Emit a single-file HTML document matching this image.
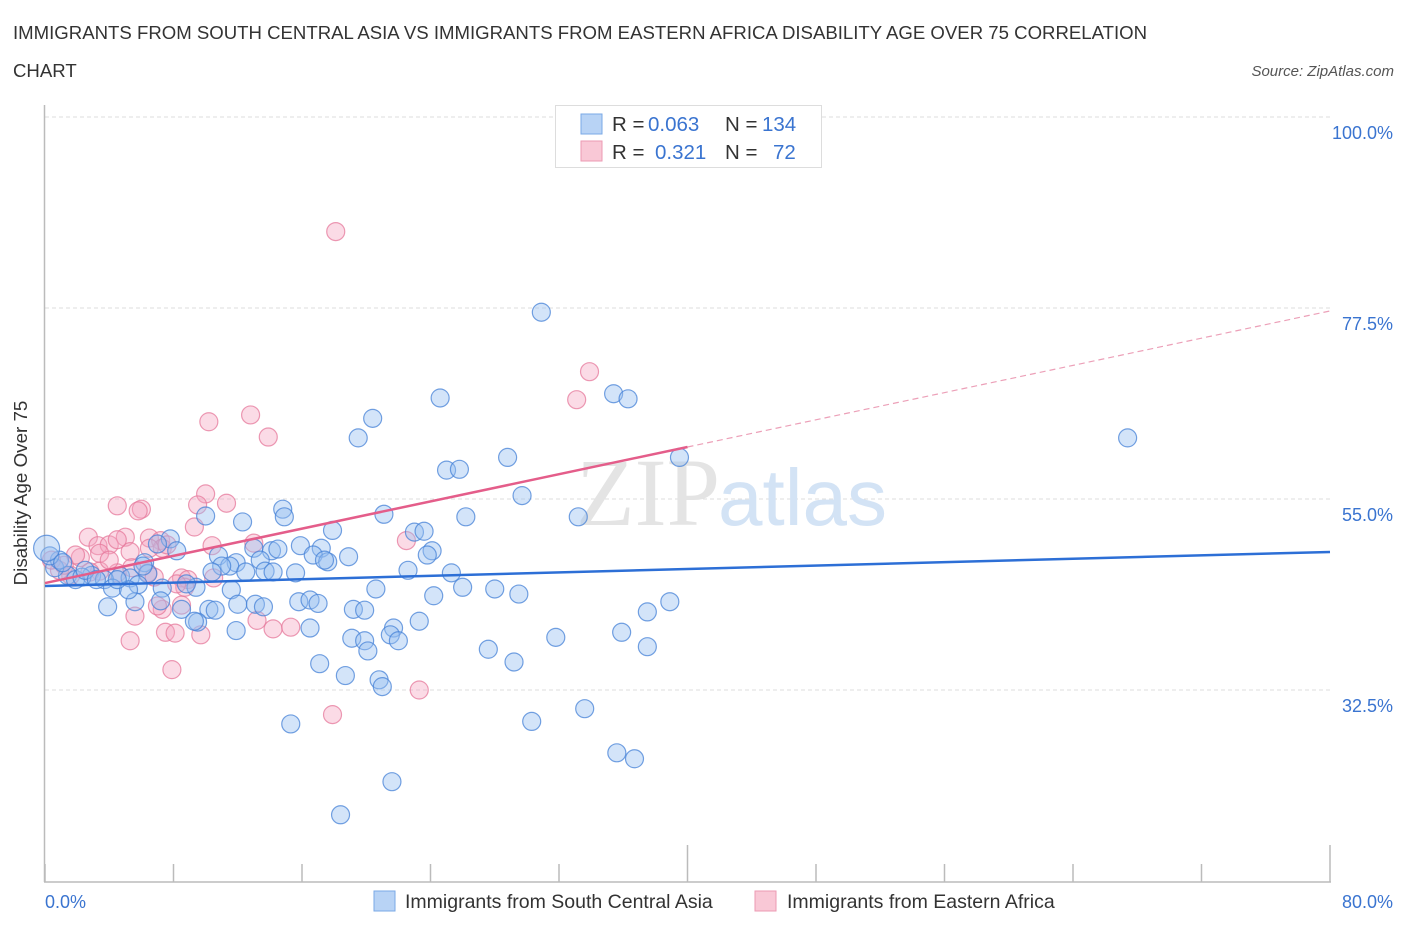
<!DOCTYPE html>
<html><head><meta charset="utf-8">
<style>
body{margin:0;background:#fff;font-family:"Liberation Sans",sans-serif;}
#wrap{position:relative;width:1406px;height:930px;overflow:hidden;}
svg{position:absolute;left:0;top:0;}
</style></head>
<body><div id="wrap">
<svg id="chart" width="1406" height="930">
<text x="13" y="39" font-size="18.6" fill="#333">IMMIGRANTS FROM SOUTH CENTRAL ASIA VS IMMIGRANTS FROM EASTERN AFRICA DISABILITY AGE OVER 75 CORRELATION</text>
<text x="13" y="77" font-size="18.6" fill="#333">CHART</text>
<text x="1394" y="76" font-size="15" fill="#555" font-style="italic" text-anchor="end">Source: ZipAtlas.com</text>
<g id="grid"></g>
<text x="720" y="525" font-size="96" fill="#e4e4e4" text-anchor="end" font-family="Liberation Serif,serif">ZIP</text>
<text x="718" y="525" font-size="80" fill="#d3e3f5">atlas</text>
<g id="axes"></g>
<g id="pinkPts"></g>
<g id="bluePts"></g>
<g id="lines"></g>
<text x="27" y="493" font-size="18.8" fill="#333" text-anchor="middle" transform="rotate(-90 27 493)">Disability Age Over 75</text>
<g>
<rect x="555.5" y="105.5" width="266" height="62" fill="#fff" stroke="#ddd"/>
<rect x="581" y="114" width="21" height="20" fill="#b8d3f5" stroke="#7aa8e6"/>
<rect x="581" y="141" width="21" height="20" fill="#f9c8d6" stroke="#ec9ab3"/>
<text y="131" font-size="20.5"><tspan x="612" fill="#333">R = </tspan><tspan x="648" fill="#3a74d0">0.063</tspan><tspan x="725" fill="#333">N = </tspan><tspan x="762" fill="#3a74d0">134</tspan></text>
<text y="159" font-size="20.5"><tspan x="612" fill="#333">R = </tspan><tspan x="655" fill="#3a74d0">0.321</tspan><tspan x="725" fill="#333">N = </tspan><tspan x="773" fill="#3a74d0">72</tspan></text>
</g>
<g>
<rect x="374" y="891" width="21" height="20" fill="#b8d3f5" stroke="#7aa8e6"/>
<text x="405" y="908" font-size="19.5" fill="#333">Immigrants from South Central Asia</text>
<rect x="755" y="891" width="21" height="20" fill="#f9c8d6" stroke="#ec9ab3"/>
<text x="787" y="908" font-size="19.5" fill="#333">Immigrants from Eastern Africa</text>
</g>
</svg></div>
<script>
const yTicks=[100,77.5,55,32.5];
const yTickLabels=["100.0%","77.5%","55.0%","32.5%"];
const xTicks=[0,8,16,24,32,40,48,56,64,72,80];
const xEndLabels=["0.0%","80.0%"];
const blueX=[30.9,35.4,36.3,24.6,20.4,19.5,67.4,28.8,39.5,25.0,25.8,29.7,14.8,10.0,21.1,26.2,33.2,12.3,14.9,17.9,23.0,23.6,7.8,7.0,15.9,17.2,13.0,14.1,14.5,16.7,8.2,10.8,18.9,24.1,23.8,13.4,17.6,11.9,11.5,6.2,11.0,17.4,12.5,10.4,13.7,14.2,15.6,22.6,25.3,6.4,4.7,2.9,3.7,5.3,5.8,9.4,8.8,11.6,20.6,24.2,26.0,28.0,29.5,38.9,37.5,7.3,5.6,3.9,7.2,10.2,8.5,10.6,12.0,13.1,13.6,15.8,16.5,17.0,19.2,19.9,9.5,9.3,11.9,16.5,23.3,21.7,21.5,19.1,19.9,22.0,20.1,31.8,35.9,37.5,27.6,29.2,17.1,18.7,20.8,21.0,33.6,30.3,15.3,35.6,36.7,21.6,18.4,1.4,1.9,2.3,0.6,0.9,0.3,0.1,1.1,2.5,3.2,4.2,5.2,6.1,4.5];
const blueY=[77.0,67.4,66.8,66.9,64.5,62.2,62.2,59.9,59.9,58.4,58.5,55.4,53.8,53.0,53.2,52.9,52.9,52.3,52.9,51.3,51.1,51.2,50.3,49.7,49.5,49.2,49.2,48.9,49.1,48.4,48.9,48.3,48.2,48.9,48.4,47.8,47.6,47.5,47.1,47.5,47.1,47.8,46.4,46.4,46.5,46.4,46.3,46.6,46.3,46.2,45.9,46.0,45.5,45.7,44.9,44.6,45.0,44.3,44.4,43.6,44.6,44.4,43.8,42.9,41.7,44.5,42.9,42.3,43.0,42.0,42.0,41.9,42.6,42.6,42.3,42.9,43.1,42.7,42.0,41.9,40.5,40.6,39.5,39.8,40.6,39.8,39.0,38.6,38.3,38.3,37.1,38.7,39.3,37.6,37.3,35.8,35.6,34.2,33.7,32.9,30.3,28.8,28.5,25.1,24.4,21.7,17.8,46.0,45.5,45.8,46.9,47.8,48.3,49.2,47.5,46.6,45.5,44.5,44.3,47.1,45.5];
const pinkX=[18.1,33.9,33.1,12.8,10.2,13.9,10.0,11.3,4.5,6.0,5.8,9.5,13.0,22.5,6.5,7.2,2.7,3.3,5.0,4.0,3.4,2.2,1.9,5.3,7.3,7.6,10.4,9.3,4.5,5.4,6.4,6.8,8.5,8.9,8.7,8.2,10.5,7.3,7.0,8.5,5.6,7.5,8.1,9.7,5.3,7.9,13.2,14.2,15.3,23.3,17.9,3.4,2.8,1.6,0.9,1.2,0.4,4.0,4.5,6.5];
const pinkY=[86.5,70.0,66.7,64.9,64.1,62.3,55.6,54.5,54.2,53.8,53.6,54.3,49.8,50.1,50.4,50.1,50.5,49.5,50.5,49.6,48.6,48.1,48.4,48.8,49.2,49.6,49.5,51.7,46.3,46.9,46.3,45.8,45.7,45.5,44.6,45.0,45.7,42.0,42.4,42.5,41.2,39.3,39.2,39.0,38.3,34.9,40.7,39.7,39.9,32.5,29.6,46.5,46.4,46.0,46.6,47.2,47.8,47.8,50.2,49.2];
const blueTrend=[44.75,48.76];
const pinkTrend=[45.1,77.15];
const pinkSolidEnd=40;

const NS="http://www.w3.org/2000/svg";
const X=p=>45+p*(1285/80);
const Y=v=>117+(100-v)*(573/67.5);
function mk(tag,attrs,parent){const e=document.createElementNS(NS,tag);for(const k in attrs)e.setAttribute(k,attrs[k]);parent.appendChild(e);return e;}
const grid=document.getElementById('grid'),axes=document.getElementById('axes');
yTicks.forEach((t,i)=>{
  const l=mk('line',{x1:45,x2:1330,y1:Y(t),y2:Y(t),stroke:'#ddd','stroke-dasharray':'4,3'},grid);
  
  
  const tx=mk('text',{x:1393,y:Y(t)+22,'font-size':18,fill:'#3a74d0','text-anchor':'end'},axes);
  tx.textContent=yTickLabels[i];
  
  
});
const ax=mk('line',{x1:44.5,x2:44.5,y1:105,y2:882,stroke:'#bbb','stroke-width':1.5},axes);


const bx=mk('line',{x1:44,x2:1331,y1:882,y2:882,stroke:'#bbb','stroke-width':1.5},axes);


xTicks.forEach((t,i)=>{
  const major=(t===40||t===80);
  const tk=mk('line',{x1:X(t),x2:X(t),y1:major?845:864,y2:882,stroke:'#bbb','stroke-width':1.5},axes);
  
  
});
const xl0=mk('text',{x:45,y:908,'font-size':18,fill:'#3a74d0'},axes);xl0.textContent=xEndLabels[0];


const xl1=mk('text',{x:1393,y:908,'font-size':18,fill:'#3a74d0','text-anchor':'end'},axes);xl1.textContent=xEndLabels[1];


const pg=document.getElementById('pinkPts'),bg=document.getElementById('bluePts');
pinkX.forEach((x,i)=>{
  const c=mk('circle',{cx:X(x),cy:Y(pinkY[i]),r:9,fill:'rgba(244,165,192,0.4)',stroke:'rgba(230,120,155,0.75)','stroke-width':1.2},pg);
  
  
});
blueX.forEach((x,i)=>{
  const big=(i===113);
  const c=mk('circle',{cx:X(x),cy:Y(blueY[i]),r:big?13:9,fill:'rgba(150,190,240,0.42)',stroke:'rgba(70,130,215,0.75)','stroke-width':1.2},bg);
  
  
});
const lg=document.getElementById('lines');
const bl=mk('line',{x1:X(0),y1:Y(blueTrend[0]),x2:X(80),y2:Y(blueTrend[1]),stroke:'#2d6fd6','stroke-width':2.5},lg);


const pv=p=>pinkTrend[0]+(pinkTrend[1]-pinkTrend[0])*p/80;
const ps=mk('line',{x1:X(0),y1:Y(pv(0)),x2:X(pinkSolidEnd),y2:Y(pv(pinkSolidEnd)),stroke:'#e45d8a','stroke-width':2.5},lg);


const pd=mk('line',{x1:X(pinkSolidEnd),y1:Y(pv(pinkSolidEnd)),x2:X(80),y2:Y(pv(80)),stroke:'#eca0b8','stroke-width':1.2,'stroke-dasharray':'6,4'},lg);


</script>
</body></html>
